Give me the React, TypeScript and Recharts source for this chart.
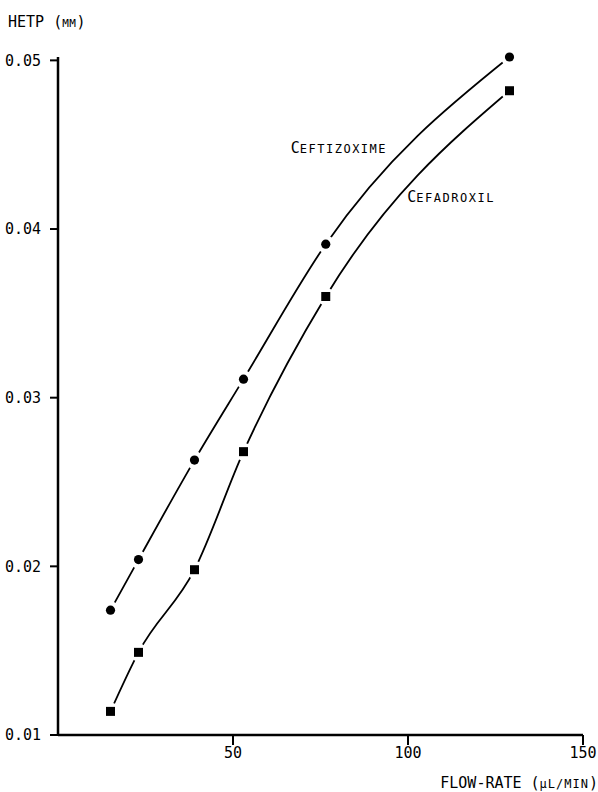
import React from 'react';
import { ComposedChart, Line, XAxis, YAxis, ReferenceDot, Label } from 'recharts';

const flowRate = [15, 23, 39, 53, 76.5, 129];
const ceftizoxime = [0.0174, 0.0204, 0.0263, 0.0311, 0.0391, 0.0502];
const cefadroxil = [0.0114, 0.0149, 0.0198, 0.0268, 0.036, 0.0482];
const xTicks = [50, 100, 150];
const yTicks = [0.01, 0.02, 0.03, 0.04, 0.05];

const FONT = '"DejaVu Sans Mono", monospace';

const data = flowRate.map((x, i) => ({
  x,
  ceftizoxime: ceftizoxime[i],
  cefadroxil: cefadroxil[i],
}));

// markers are drawn as point labels (they sit above the curve), with a white
// halo so the curve breaks around each one like in the original
const CircleMark = (p: any) => (
  <g key={`c${p.index}`}>
    <circle cx={p.x} cy={p.y} r={9} fill="#fff" />
    <circle cx={p.x} cy={p.y} r={4.6} fill="#000" />
  </g>
);

const SquareMark = (p: any) => (
  <g key={`s${p.index}`}>
    <circle cx={p.x} cy={p.y} r={9} fill="#fff" />
    <rect x={p.x - 4.5} y={p.y - 4.5} width={9} height={9} fill="#000" />
  </g>
);

// small caps label: first letter big, rest smaller
const SmallCaps = ({ x, y, big, small }: { x: number; y: number; big: string; small: string }) => (
  <text x={x} y={y} fontFamily={FONT} fill="#000">
    <tspan fontSize={15}>{big}</tspan>
    <tspan fontSize={12} letterSpacing={1.5}>{small}</tspan>
  </text>
);

export default function App() {
  return (
    <div style={{ position: 'absolute', left: 0, top: 0, background: '#fff' }}>
      <ComposedChart
        width={598}
        height={792}
        data={data}
        margin={{ top: 57, right: 15, bottom: 27, left: 0 }}
      >
        <XAxis
          type="number"
          dataKey="x"
          domain={[0, 150]}
          ticks={xTicks}
          tickSize={10}
          tickMargin={2}
          height={30}
          axisLine={{ stroke: '#000', strokeWidth: 2.5 }}
          tickLine={{ stroke: '#000', strokeWidth: 2 }}
          tick={{ fontFamily: FONT, fontSize: 15, fill: '#000' }}
        >
          <Label
            content={(p: any) => {
              const vb = p.viewBox;
              return (
                <text
                  x={vb.x + vb.width + 15}
                  y={vb.y + 53}
                  textAnchor="end"
                  fontFamily={FONT}
                  fill="#000"
                >
                  <tspan fontSize={15}>FLOW-RATE (</tspan>
                  <tspan fontSize={12} letterSpacing={1}>µL/MIN</tspan>
                  <tspan fontSize={15}>)</tspan>
                </text>
              );
            }}
          />
        </XAxis>
        <YAxis
          type="number"
          domain={[0.01, 0.05]}
          ticks={yTicks}
          width={58}
          tickSize={8}
          tickMargin={9}
          axisLine={{ stroke: '#000', strokeWidth: 2.5 }}
          tickLine={{ stroke: '#000', strokeWidth: 2 }}
          tick={{ fontFamily: FONT, fontSize: 15, fill: '#000' }}
          tickFormatter={(v: number) => v.toFixed(2)}
        >
          <Label
            content={(p: any) => {
              const vb = p.viewBox;
              return (
                <text x={8} y={vb.y - 30} fontFamily={FONT} fill="#000">
                  <tspan fontSize={15}>HETP (</tspan>
                  <tspan fontSize={11} letterSpacing={0.5}>MM</tspan>
                  <tspan fontSize={15}>)</tspan>
                </text>
              );
            }}
          />
        </YAxis>
        <Line
          dataKey="ceftizoxime"
          type="monotone"
          stroke="#000"
          strokeWidth={1.8}
          dot={false}
          activeDot={false}
          label={CircleMark}
          isAnimationActive={false}
        />
        <Line
          dataKey="cefadroxil"
          type="monotone"
          stroke="#000"
          strokeWidth={1.8}
          dot={false}
          activeDot={false}
          label={SquareMark}
          isAnimationActive={false}
        />
        <ReferenceDot
          x={66.5}
          y={0.0445}
          r={0}
          shape={(p: any) => <SmallCaps x={p.cx} y={p.cy} big="C" small="EFTIZOXIME" />}
        />
        <ReferenceDot
          x={99.8}
          y={0.0416}
          r={0}
          shape={(p: any) => <SmallCaps x={p.cx} y={p.cy} big="C" small="EFADROXIL" />}
        />
      </ComposedChart>
    </div>
  );
}
